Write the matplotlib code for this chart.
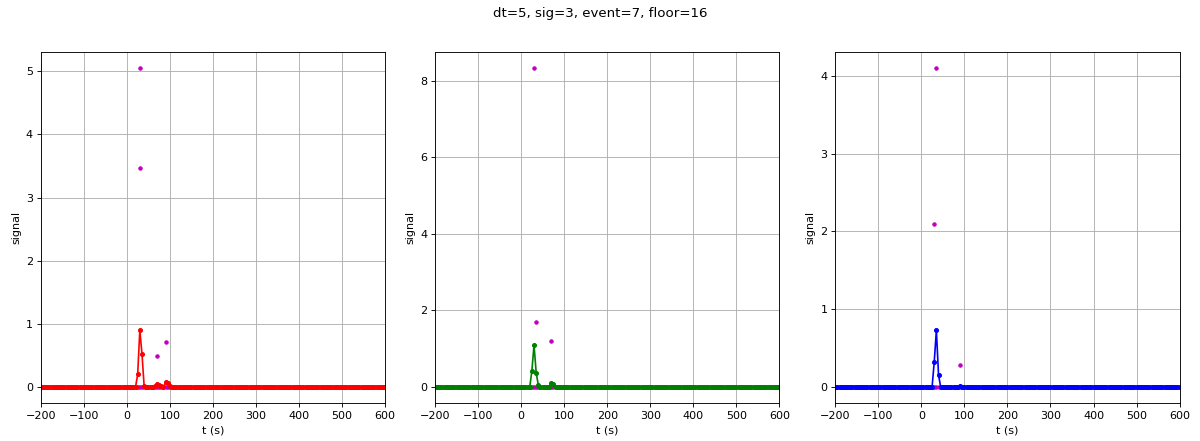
import numpy as np
import matplotlib
matplotlib.use("Agg")
import matplotlib.pyplot as plt

# ============ DATA ============
DT = 5
T_START = -200
T_END = 600

# non-zero samples of each signal (time, value); every other sample is 0
red_t = [25, 30, 35, 40, 65, 70, 75, 80, 90, 95, 100]
red_v = [0.2, 0.9, 0.53, 0.02, 0.01, 0.05, 0.04, 0.01, 0.08, 0.06, 0.01]

green_t = [25, 30, 35, 40, 65, 70, 75]
green_v = [0.42, 1.1, 0.38, 0.05, 0.01, 0.12, 0.08]

blue_t = [30, 35, 40, 90]
blue_v = [0.32, 0.73, 0.16, 0.02]

# event markers (magenta), non-zero ones
ev_red_t = [30, 30, 70, 90]
ev_red_v = [5.05, 3.47, 0.5, 0.71]

ev_green_t = [30, 35, 70]
ev_green_v = [8.33, 1.7, 1.2]

ev_blue_t = [35, 30, 90]
ev_blue_v = [4.1, 2.1, 0.29]

panels = [
    ('r', red_t, red_v, ev_red_t, ev_red_v),
    ('g', green_t, green_v, ev_green_t, ev_green_v),
    ('b', blue_t, blue_v, ev_blue_t, ev_blue_v),
]


def full_series(times, vals):
    t = np.arange(T_START, T_END + DT, DT)
    y = np.zeros(len(t))
    for ti, vi in zip(times, vals):
        y[(ti - T_START) // DT] = vi
    return t, y


# ============ PLOT ============
DPI = 80
fig = plt.figure(figsize=(1200 / DPI, 441 / DPI), dpi=DPI)
lefts = [0.034, 0.3625, 0.696]
for left, (col, st, sv, et, ev) in zip(lefts, panels):
    ax = fig.add_axes([left, 0.086, 0.287, 0.796])
    t, y = full_series(st, sv)
    ax.plot(t, np.zeros(len(t)), '.', color='m')
    ax.plot(et, ev, '.', color='m', linestyle='none')
    ax.plot(t, y, '.-', color=col, markersize=7)
    ax.set_xlim(-200, 600)
    ax.grid(True)
    ax.set_xlabel('t (s)')
    ax.set_ylabel('signal')

fig.suptitle('dt=5, sig=3, event=7, floor=16', y=0.985)
fig.savefig('out.png', dpi=DPI)
